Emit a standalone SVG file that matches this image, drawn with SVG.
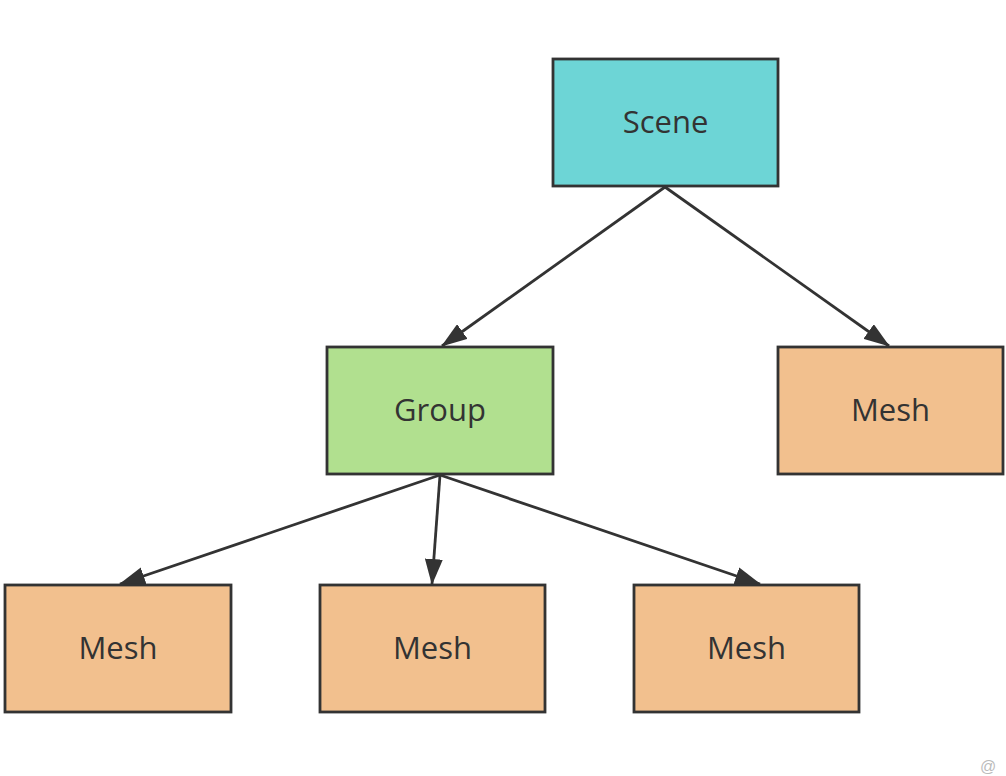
<svg xmlns="http://www.w3.org/2000/svg" width="1006" height="776" viewBox="0 0 1006 776">
  <defs>
    <marker id="arrow" viewBox="0 0 26 18" refX="25" refY="9" markerWidth="26" markerHeight="18" markerUnits="userSpaceOnUse" orient="auto">
      <path d="M0,0 L26,9 L0,18 Z" fill="#333"/>
    </marker>
    <style>
      .box { stroke: #333; stroke-width: 2.8; }
      .scene { fill: #6dd5d6; }
      .group { fill: #b1e08f; }
      .mesh { fill: #f2c08e; }
      .label { font-family: "Open Sans", "Noto Sans", sans-serif; font-size: 31px; fill: #333; text-anchor: middle; dominant-baseline: central; }
      .edge { stroke: #333; stroke-width: 2.8; fill: none; marker-end: url(#arrow); }
    </style>
  </defs>
  <rect width="1006" height="776" fill="#fff"/>

  <g id="connectors">
    <line class="edge" x1="665" y1="187" x2="442" y2="346"/>
    <line class="edge" x1="665" y1="187" x2="889" y2="346"/>
    <line class="edge" x1="440" y1="475" x2="120" y2="584"/>
    <line class="edge" x1="440" y1="475" x2="432" y2="584"/>
    <line class="edge" x1="440" y1="475" x2="760" y2="584"/>
  </g>

  <g id="scene">
    <rect class="box scene" x="553" y="59" width="225" height="127"/>
    <text class="label" x="665.5" y="121">Scene</text>
  </g>
  <g id="group">
    <rect class="box group" x="327" y="347" width="226" height="127"/>
    <text class="label" x="440" y="409">Group</text>
  </g>
  <g id="mesh-right">
    <rect class="box mesh" x="778" y="347" width="225" height="127"/>
    <text class="label" x="890.5" y="409">Mesh</text>
  </g>
  <g id="mesh-1">
    <rect class="box mesh" x="5" y="585" width="226" height="127"/>
    <text class="label" x="118" y="647">Mesh</text>
  </g>
  <g id="mesh-2">
    <rect class="box mesh" x="320" y="585" width="225" height="127"/>
    <text class="label" x="432.5" y="647">Mesh</text>
  </g>
  <g id="mesh-3">
    <rect class="box mesh" x="634" y="585" width="225" height="127"/>
    <text class="label" x="746.5" y="647">Mesh</text>
  </g>

  <text x="980" y="772" font-family="'Liberation Sans', sans-serif" font-size="16" fill="#bbb">@</text>
</svg>
